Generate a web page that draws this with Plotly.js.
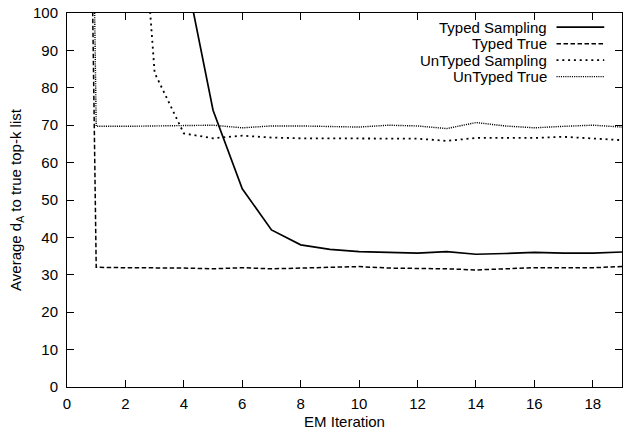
<!DOCTYPE html>
<html>
<head>
<meta charset="utf-8">
<script src="https://cdn.plot.ly/plotly-3.0.1.min.js"></script>
<style>
  html, body { margin: 0; padding: 0; background: #fff; }
  #chart { width: 624px; height: 434px; }
</style>
</head>
<body>
<div id="chart"></div>
<script>
// EM iteration index
const iterations = [0,1,2,3,4,5,6,7,8,9,10,11,12,13,14,15,16,17,18,19];
// Series values (values above 100 run off the top of the plot)
const typedSampling   = [null,null,null,null,113,74,53,42,38,36.8,36.2,36.1,35.8,36.2,35.5,35.7,36.0,35.8,35.8,36.1];
const typedTrue       = [600,32.0,31.9,31.9,31.8,31.6,31.9,31.6,31.8,31.9,32.2,31.8,31.8,31.6,31.3,31.7,31.9,31.9,31.9,32.2];
const untypedSampling = [null,null,190,84,67.8,66.5,67.2,66.7,66.5,66.5,66.4,66.3,66.4,65.8,66.6,66.6,66.6,66.9,66.4,66.0];
const untypedTrue     = [640,69.7,69.7,69.8,70.0,70.0,69.3,69.8,69.8,69.6,69.5,70.0,69.8,69.1,70.7,69.8,69.3,69.7,70.0,69.5];

const seriesNames = ["Typed Sampling", "Typed True", "UnTyped Sampling", "UnTyped True"];
const seriesData = [typedSampling, typedTrue, untypedSampling, untypedTrue];
const seriesStyle = [
  {dash: "solid", width: 1.7},
  {dash: "4.5px,2.5px", width: 1.5},
  {dash: "2px,3.8px", width: 1.8},
  {dash: "1.1px,1.1px", width: 1.4}
];

const xTicks = [0,2,4,6,8,10,12,14,16,18];
const yTicks = [0,10,20,30,40,50,60,70,80,90,100];

const FONT = "Liberation Sans, Arial, Helvetica, sans-serif";

const traces = seriesData.map((ys, i) => ({
  x: iterations,
  y: ys,
  type: "scatter",
  mode: "lines",
  name: seriesNames[i],
  connectgaps: false,
  line: {color: "#000", width: seriesStyle[i].width, dash: seriesStyle[i].dash},
  showlegend: false,
  hoverinfo: "skip"
}));

// Hand-drawn legend (text left, sample on right) in paper coordinates
const legendRowsY = [0.962, 0.918, 0.874, 0.830];
const annotations = seriesNames.map((n, i) => ({
  xref: "paper", yref: "paper",
  x: 0.869, y: legendRowsY[i],
  xanchor: "right", yanchor: "middle",
  text: n, showarrow: false,
  font: {family: FONT, size: 15, color: "#000"}
}));
const shapes = seriesNames.map((n, i) => ({
  type: "line", xref: "paper", yref: "paper",
  x0: 0.882, x1: 0.968, y0: legendRowsY[i], y1: legendRowsY[i],
  line: {color: "#000", width: seriesStyle[i].width, dash: seriesStyle[i].dash}
}));

const layout = {
  width: 624, height: 434,
  margin: {l: 67, r: 2, t: 13, b: 46.5, pad: 0},
  paper_bgcolor: "#fff", plot_bgcolor: "#fff",
  font: {family: FONT, size: 15, color: "#000"},
  xaxis: {
    range: [0, 19], tickvals: xTicks, ticktext: xTicks.map(String),
    ticks: "inside", ticklen: 7, tickwidth: 1, tickcolor: "#000",
    showline: true, linecolor: "#000", linewidth: 1, mirror: "ticks",
    showgrid: false, zeroline: false,
    tickfont: {family: FONT, size: 15},
    ticklabelstandoff: 3,
    title: {text: "EM Iteration", font: {family: FONT, size: 15}, standoff: 5}
  },
  yaxis: {
    range: [0, 100], tickvals: yTicks, ticktext: yTicks.map(String),
    ticks: "inside", ticklen: 7, tickwidth: 1, tickcolor: "#000",
    showline: true, linecolor: "#000", linewidth: 1, mirror: "ticks",
    showgrid: false, zeroline: false,
    tickfont: {family: FONT, size: 15},
    ticklabelstandoff: 5,
    title: {text: "Average d<sub>A</sub> to true top-k list", font: {family: FONT, size: 15}, standoff: 7}
  },
  annotations: annotations,
  shapes: shapes,
  showlegend: false
};

Plotly.newPlot("chart", traces, layout, {displayModeBar: false, staticPlot: true});
</script>
</body>
</html>
